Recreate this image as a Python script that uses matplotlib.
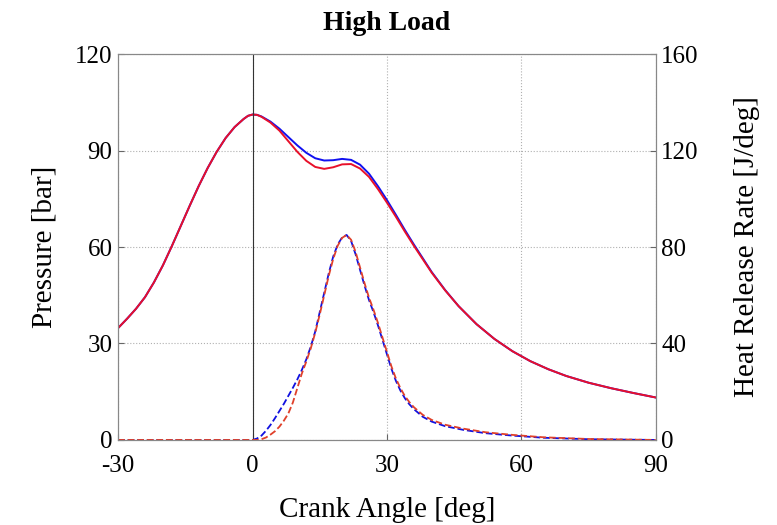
import numpy as np
import matplotlib.pyplot as plt

plt.rcParams['font.family'] = ['Liberation Serif', 'DejaVu Serif']
plt.rcParams['axes.unicode_minus'] = False

# crank angle [deg] and pressure [bar]
ca_p = [-30, -28, -26, -24, -22, -20, -18, -16, -14, -12, -10, -8, -6, -4, -2, -1,
        0, 1, 2, 4, 6, 8, 10, 12, 14, 16, 18, 20, 22, 24, 26, 28, 30, 32, 34, 36,
        38, 40, 43, 46, 50, 54, 58, 62, 66, 70, 75, 80, 85, 90]
p_blue = [34.8, 37.7, 40.8, 44.4, 49.0, 54.3, 60.3, 66.6, 72.9, 79.0, 84.6, 89.6,
          93.9, 97.3, 99.8, 100.8, 101.2, 101.1, 100.6, 99.0, 96.8, 94.2, 91.6,
          89.3, 87.6, 86.9, 87.0, 87.4, 87.1, 85.6, 82.8, 78.9, 74.6, 70.0, 65.3,
          60.8, 56.5, 52.2, 46.6, 41.6, 36.0, 31.4, 27.6, 24.5, 22.0, 19.9, 17.8,
          16.1, 14.6, 13.2]
p_red = [34.8, 37.7, 40.8, 44.4, 49.0, 54.3, 60.3, 66.6, 72.9, 79.0, 84.6, 89.6,
         93.9, 97.3, 99.8, 100.8, 101.2, 101.1, 100.5, 98.7, 96.2, 92.9, 89.6,
         86.8, 84.9, 84.3, 84.8, 85.7, 85.8, 84.4, 81.8, 78.0, 73.8, 69.4, 64.8,
         60.4, 56.2, 52.0, 46.5, 41.6, 36.0, 31.4, 27.6, 24.5, 22.0, 19.9, 17.8,
         16.1, 14.6, 13.2]

# crank angle [deg] and heat release rate [J/deg]
ca_h = [-30, 0, 1, 2, 3, 4, 5, 6, 7, 8, 9, 10, 11, 12, 13, 14, 15, 16, 17, 18, 19,
        20, 21, 22, 23, 24, 25, 26, 27, 28, 29, 30, 31, 32, 33, 34, 35, 36, 38, 40,
        43, 47, 52, 58, 65, 75, 90]
hrr_blue = [0, 0, 0.6, 1.8, 3.8, 6.2, 9.0, 12.0, 15.0, 18.3, 21.6, 25.1, 29.0, 33.4,
            38.7, 45.0, 53.0, 61.0, 69.0, 76.0, 81.0, 84.0, 85.0, 82.5, 77.0, 70.5,
            64.0, 58.0, 53.0, 47.5, 41.5, 35.5, 29.5, 24.5, 20.5, 17.3, 14.8, 12.8,
            9.6, 7.6, 5.7, 4.2, 2.8, 1.8, 0.9, 0.3, 0]
hrr_red = [0, 0, 0, 0.3, 1.0, 2.2, 3.6, 5.5, 8.0, 11.0, 15.5, 21.5, 27.5, 32.5, 38.0,
           44.5, 52.0, 60.0, 68.0, 75.0, 80.5, 83.8, 85.0, 83.0, 78.0, 71.5, 65.0,
           59.0, 54.0, 48.5, 42.5, 36.5, 30.5, 25.5, 21.5, 18.2, 15.7, 13.6, 10.4,
           8.3, 6.3, 4.7, 3.2, 2.1, 1.1, 0.4, 0]

fig = plt.figure(figsize=(7.77, 5.25), dpi=100)
ax = fig.add_axes([0.152, 0.162, 0.692, 0.735])
ax2 = ax.twinx()

ax.plot(ca_p, p_blue, color='#1010f0', lw=1.4)
ax.plot(ca_p, p_red, color='#e8102a', lw=1.4)
ax.axvline(0, color='#333333', lw=0.8)

ax2.plot(ca_h, hrr_blue, color='#1010e0', lw=1.3, ls='--')
ax2.plot(ca_h, hrr_red, color='#e0402a', lw=1.3, ls='--')

ax.set_xlim(-30, 90)
ax.set_ylim(0, 120)
ax.set_xticks([-30, 0, 30, 60, 90])
ax.set_yticks([0, 30, 60, 90, 120])
ax2.set_ylim(0, 160)
ax2.set_yticks([0, 40, 80, 120, 160])

ax.grid(True, ls=':', color='#b0b0b0', lw=0.8)
for a in (ax, ax2):
    a.tick_params(direction='in', length=4, labelsize=18, color='#666666', pad=4)
    for s in a.spines.values():
        s.set_color('#888888')
ax.tick_params(axis='x', pad=11)

ax.set_xlabel('Crank Angle [deg]', fontsize=21)
ax.set_ylabel('Pressure [bar]', fontsize=21)
ax2.set_ylabel('Heat Release Rate [J/deg]', fontsize=21)
ax.xaxis.set_label_coords(0.5, -0.148)
ax.yaxis.set_label_coords(-0.113, 0.5)
ax2.yaxis.set_label_coords(1.145, 0.5)
ax.set_title('High Load', fontsize=20, fontweight='bold', pad=17)

fig.savefig('out.png', dpi=100)
